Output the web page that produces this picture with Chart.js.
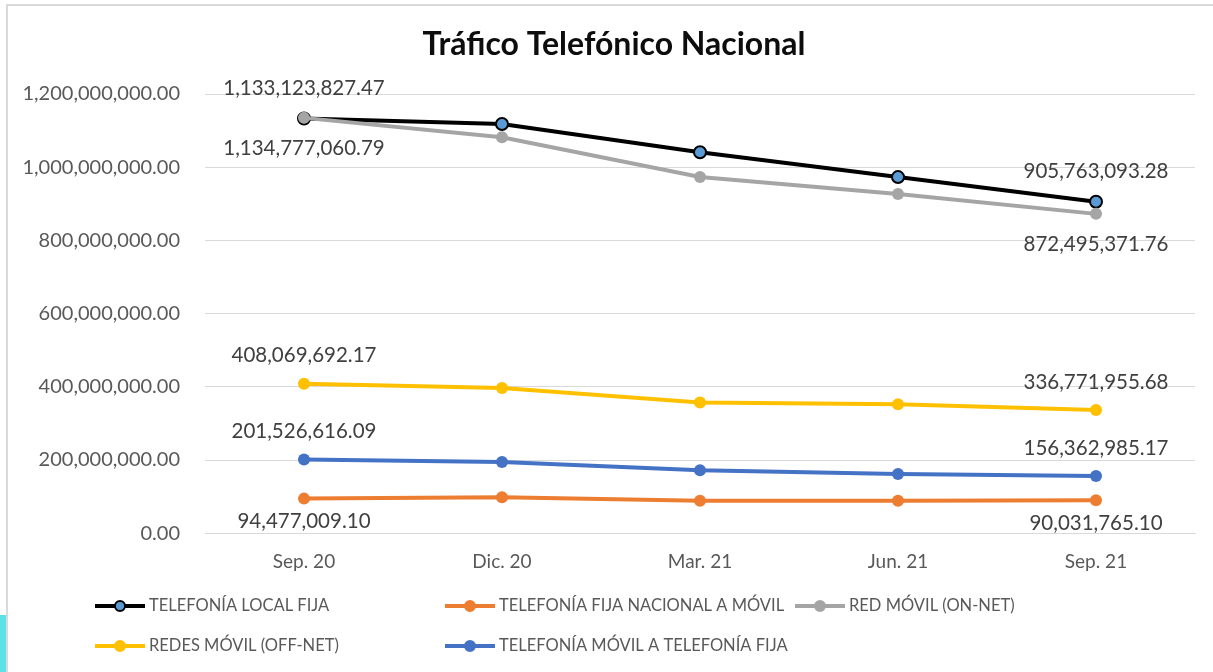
<!DOCTYPE html>
<html>
<head>
<meta charset="utf-8">
<script src="https://cdn.jsdelivr.net/npm/chart.js@4.4.0/dist/chart.umd.min.js"></script>
<style>
  html, body { margin: 0; padding: 0; background: #fff; overflow: hidden; }
  #wrap { position: relative; width: 1213px; height: 672px; }
  #frame { position: absolute; left: 6px; top: 4px; width: 1300px; height: 800px;
           border-left: 2px solid #d9d9d9; border-top: 2px solid #d9d9d9; }
  #strip { position: absolute; left: 0; top: 615px; width: 6px; height: 57px; background: #5ce1e6; }
  #c { position: absolute; left: 0; top: 0; }
</style>
</head>
<body>
<div id="wrap">
  <div id="frame"></div>
  <div id="strip"></div>
  <canvas id="c" width="1213" height="672"></canvas>
</div>
<script>
// categorias (trimestres)
var periodos = ["Sep. 20", "Dic. 20", "Mar. 21", "Jun. 21", "Sep. 21"];

// series (minutos de tráfico)
var localFija      = [1133123827.47, 1118000000, 1041000000, 973000000, 905763093.28];
var fijaAMovil     = [94477009.10, 98000000, 88500000, 88500000, 90031765.10];
var redOnNet       = [1134777060.79, 1082000000, 973000000, 927000000, 872495371.76];
var redesOffNet    = [408069692.17, 397000000, 357000000, 352000000, 336771955.68];
var movilAFija     = [201526616.09, 194500000, 172000000, 162000000, 156362985.17];

var yTicksMax = 1200000000;
var yTicksStep = 200000000;

var titulo = "Tráfico Telefónico Nacional";
var fuente = "Lato, 'Open Sans', sans-serif";

function fmt(v){
    return v.toLocaleString('en-US', {minimumFractionDigits: 2, maximumFractionDigits: 2});
}

// titulo centrado como en Excel (un poco a la derecha del centro)
var tituloPlugin = {
    id: 'tituloPlugin',
    afterDraw: function(chart){
        var ctx = chart.ctx;
        ctx.save();
        ctx.font = "bold 32px " + fuente;
        ctx.fillStyle = "#0d0d0d";
        ctx.textAlign = "center";
        ctx.textBaseline = "middle";
        ctx.fillText(titulo, 614, 45);
        ctx.restore();
    }
};

// etiquetas de datos en el primer y ultimo punto
var etiquetas = {
    id: 'etiquetas',
    afterDatasetsDraw: function(chart){
        var ctx = chart.ctx;
        ctx.save();
        ctx.font = "20.5px " + fuente;
        ctx.fillStyle = "#404040";
        ctx.textAlign = "center";
        ctx.textBaseline = "middle";
        chart.data.datasets.forEach(function(ds, i){
            var meta = chart.getDatasetMeta(i);
            [0, ds.data.length - 1].forEach(function(j){
                var p = meta.data[j];
                var dy = ds.labelPos === 'above' ? -ds.labelGap : ds.labelGap;
                ctx.fillText(fmt(ds.data[j]), p.x, p.y + dy);
            });
        });
        ctx.restore();
    }
};

// leyenda estilo Excel (dos filas, columnas fijas)
var leyenda = {
    id: 'leyenda',
    afterDraw: function(chart){
        var ctx = chart.ctx;
        var cols = [95, 445, 795];
        var rows = [606, 646];
        ctx.save();
        ctx.font = "16.5px " + fuente;
        ctx.textBaseline = "middle";
        chart.data.datasets.forEach(function(ds, i){
            var x = cols[i % 3], y = rows[Math.floor(i / 3)];
            ctx.strokeStyle = ds.borderColor;
            ctx.lineWidth = 4;
            ctx.beginPath();
            ctx.moveTo(x, y);
            ctx.lineTo(x + 50, y);
            ctx.stroke();
            ctx.beginPath();
            ctx.arc(x + 25, y, 5, 0, Math.PI * 2);
            ctx.fillStyle = ds.pointBackgroundColor;
            ctx.fill();
            ctx.lineWidth = 2;
            ctx.strokeStyle = ds.pointBorderColor;
            ctx.stroke();
            ctx.fillStyle = "#595959";
            ctx.fillText(ds.label, x + 54, y);
        });
        ctx.restore();
    }
};

function serie(nombre, datos, color, punto, borde, pos, gap, orden){
    return {
        label: nombre,
        data: datos,
        borderColor: color,
        backgroundColor: color,
        borderWidth: 4,
        pointRadius: 6,
        pointHoverRadius: 6,
        pointBackgroundColor: punto,
        pointBorderColor: borde,
        pointBorderWidth: borde === punto ? 0 : 2,
        tension: 0,
        order: orden,
        labelPos: pos,
        labelGap: gap
    };
}

new Chart("c", {
    type: "line",
    data: {
        labels: periodos,
        datasets: [
            serie("TELEFONÍA LOCAL FIJA", localFija, "#000000", "#5b9bd5", "#000000", 'above', 30, 5),
            serie("TELEFONÍA FIJA NACIONAL A MÓVIL", fijaAMovil, "#ed7d31", "#ed7d31", "#ed7d31", 'below', 23, 4),
            serie("RED MÓVIL (ON-NET)", redOnNet, "#a5a5a5", "#a5a5a5", "#a5a5a5", 'below', 31, 3),
            serie("REDES MÓVIL (OFF-NET)", redesOffNet, "#ffc000", "#ffc000", "#ffc000", 'above', 28, 2),
            serie("TELEFONÍA MÓVIL A TELEFONÍA FIJA", movilAFija, "#4472c4", "#4472c4", "#4472c4", 'above', 28, 1)
        ]
    },
    options: {
        responsive: false,
        animation: false,
        layout: { padding: { left: 0, right: 18, top: 94, bottom: 82 } },
        plugins: {
            legend: { display: false },
            tooltip: { enabled: false },
            title: { display: false }
        },
        scales: {
            x: {
                offset: true,
                grid: { display: false, drawTicks: false },
                border: { display: true, color: "#d9d9d9", width: 1 },
                ticks: { color: "#595959", font: { family: fuente, size: 19 }, padding: 17 }
            },
            y: {
                min: 0,
                max: yTicksMax,
                grid: { color: "#d9d9d9", lineWidth: 1, drawTicks: false },
                border: { display: false },
                ticks: {
                    stepSize: yTicksStep,
                    color: "#595959",
                    font: { family: fuente, size: 20 },
                    padding: 25,
                    callback: function(v){ return fmt(v); }
                },
                afterFit: function(scale){ scale.width = 205; }
            }
        }
    },
    plugins: [tituloPlugin, etiquetas, leyenda]
});
</script>
</body>
</html>
